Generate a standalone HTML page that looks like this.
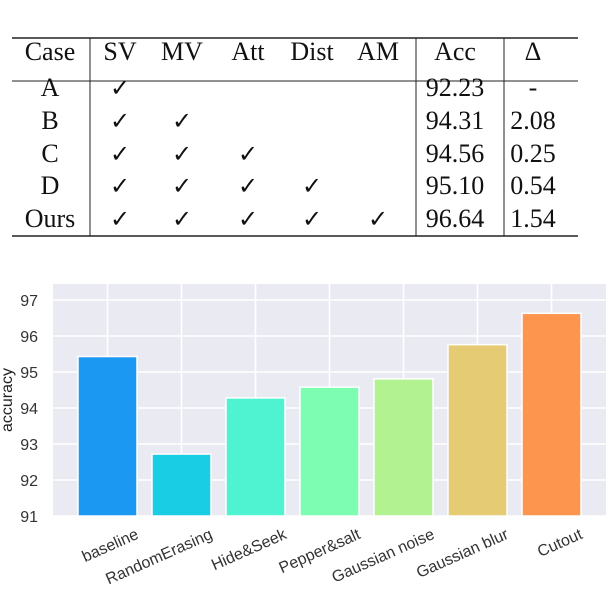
<!DOCTYPE html>
<html><head><meta charset="utf-8"><style>
body{margin:0;width:606px;height:592px;background:#fff;overflow:hidden;position:relative}
svg{position:absolute;left:0;top:0}
</style></head><body>
<svg width="606" height="592" font-family="Liberation Serif, serif">
<g font-size="26" fill="#111" text-anchor="middle">
<line x1="12" y1="38" x2="578" y2="38" stroke="#222" stroke-width="1.5"/>
<line x1="12" y1="81" x2="578" y2="81" stroke="#222" stroke-width="1"/>
<line x1="12" y1="236" x2="578" y2="236" stroke="#222" stroke-width="1.5"/>
<line x1="90" y1="38" x2="90" y2="236" stroke="#222"/>
<line x1="416" y1="38" x2="416" y2="236" stroke="#222"/>
<line x1="504" y1="38" x2="504" y2="236" stroke="#222"/>
<g id="tbl"></g>
</g>
<g id="chart" font-family="Liberation Sans, sans-serif"></g>
</svg>
<script>
const header=["Case","SV","MV","Att","Dist","AM","Acc","Δ"];
const rows=[["A","✓","","","","","92.23","-"],["B","✓","✓","","","","94.31","2.08"],["C","✓","✓","✓","","","94.56","0.25"],["D","✓","✓","✓","✓","","95.10","0.54"],["Ours","✓","✓","✓","✓","✓","96.64","1.54"]];
const categories=["baseline","RandomErasing","Hide&Seek","Pepper&salt","Gaussian noise","Gaussian blur","Cutout"];
const values=[95.43,92.72,94.28,94.58,94.81,95.76,96.63];
const yTicks=[91,92,93,94,95,96,97];
const colors=["#1b98f2","#19cde4","#4ff3d2","#7dfdb1","#b3f291","#e5cc74","#fe954f"];
const NS="http://www.w3.org/2000/svg";
function mk(t,a,p){const e=document.createElementNS(NS,t);for(const k in a)e.setAttribute(k,a[k]);p.appendChild(e);return e;}
const tbl=document.getElementById('tbl');
const colX=[50,120,182,248,312,378,455,533];
const rowY=[60,96,129,162,194,227];
header.forEach((h,i)=>{const t=mk('text',{x:colX[i],y:rowY[0]},tbl);t.textContent=h;

});
rows.forEach((r,j)=>{r.forEach((c,i)=>{if(!c)return;const t=mk('text',{x:colX[i],y:rowY[j+1]},tbl);t.textContent=c;if(c==="✓")t.setAttribute('font-size','24');

});});
const g=document.getElementById('chart');
const L=53,R=606,T=284,B=516,x0=107.5,step=74,bw=59;
const y=v=>B-(v-91)*(B-300)/6;
const x=i=>x0+step*i;
const bg=mk('rect',{x:L,y:T,width:R-L,height:B-T,fill:"#eaeaf2"},g);

yTicks.forEach(v=>{const l=mk('line',{x1:L,x2:R,y1:y(v),y2:y(v),stroke:"#fff","stroke-width":1.5},g);

const t=mk('text',{x:L-15,y:y(v)+6,"text-anchor":"end","font-size":16,fill:"#333"},g);t.textContent=v;
});
categories.forEach((c,i)=>{const l=mk('line',{x1:x(i),x2:x(i),y1:T,y2:B,stroke:"#fff","stroke-width":1.5},g);
});
categories.forEach((c,i)=>{const r=mk('rect',{x:x(i)-bw/2,y:y(values[i]),width:bw,height:B-y(values[i]),fill:colors[i],stroke:"#fff","stroke-width":1.5},g);

const ax=x(i)+32,ay=B+22;
const t=mk('text',{x:ax,y:ay,"text-anchor":"end","font-size":16,fill:"#333",transform:`rotate(-24 ${ax} ${ay})`},g);t.textContent=c;
});
const yt=mk('text',{x:12,y:400,"text-anchor":"middle","font-size":16,fill:"#222",transform:"rotate(-90 12 400)"},g);yt.textContent="accuracy";

</script>
</body></html>
